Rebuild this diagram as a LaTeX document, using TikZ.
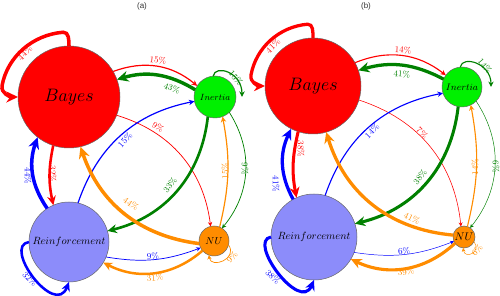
\RequirePackage{fix-cm}
\documentclass[tikz,border=0pt]{standalone}
\usepackage{fontspec}
\newfontfamily\titlefont{Liberation Sans}
\usetikzlibrary{arrows.meta,calc}
\definecolor{cR}{RGB}{255,0,0}
\definecolor{cG}{RGB}{0,128,0}
\definecolor{cB}{RGB}{0,0,255}
\definecolor{cO}{RGB}{255,140,0}
\definecolor{fB}{RGB}{255,0,0}
\definecolor{fI}{RGB}{0,240,0}
\definecolor{fR}{RGB}{140,140,250}
\definecolor{fN}{RGB}{255,140,0}
\tikzset{
 state/.style={circle, draw=black!60, line width=0.5pt, inner sep=0pt, outer sep=0pt},
 wt/.style={line width=#1*0.08pt, -{Stealth[length=2.5pt 2.6, width=2.5pt 2.4]}},
 lab/.style={font=\fontsize{8.8}{9}\selectfont, inner sep=0pt},
 ttl/.style={font=\titlefont\fontsize{8}{8}\selectfont, text=black!80, inner sep=0pt},
}
\begin{document}
\begin{tikzpicture}[x=1pt,y=1pt]
\useasboundingbox (0,0) rectangle (500,296);
% ---------------- panel (a)
\node[ttl] (ta) at (142,290) {(a)};
\node[state, fill=fB, minimum size=102pt] (Ba) at (69,199) {\fontsize{18}{18}\selectfont$Bayes$};
\node[state, fill=fI, minimum size=42pt] (Ia) at (215,199) {\fontsize{9}{9}\selectfont$Inertia$};
\node[state, fill=fR, minimum size=80pt] (Ra) at (69,54) {\fontsize{10.5}{10.5}\selectfont$Reinforcement$};
\node[state, fill=fN, minimum size=30pt] (Na) at (214,55) {\fontsize{10}{10}\selectfont$NU$};

\draw[wt=44, cR] (Ba.north) to[out=90,in=5] ($(Ba.center)+(95:68 and 65)$) arc[start angle=95,end angle=170,x radius=68,y radius=65] to[out=260,in=180] (Ba.west);
\draw[wt=15, cR] (Ba.30) to[bend left=30] (Ia.148);
\draw[wt=43, cG] (Ia.160) to[bend right=24] (Ba.20);
\draw[wt=15, cG] (Ia.95) .. controls +(2,12) and +(0,25) .. ($(Ia.east)+(6,0)$);
\draw[wt=9, cR] (Ba.-21) to[bend left=33] (Na.103);
\draw[wt=15, cB] (Ra.77) to[bend left=30] (Ia.192);
\draw[wt=33, cG] (Ia.250) to[bend left=35] (Ra.16);
\draw[wt=15, cO] (Na.68) to[bend right=12] (Ia.291);
\draw[wt=9, cG] (Ia.313) to[bend left=36] (Na.58);
\draw[wt=44, cO] (Na.190) to[bend left=32] (Ba.283);
\draw[wt=44, cB] (Ra.123) to[bend left=27] (Ba.232);
\draw[wt=32, cR] (Ba.252) to[bend right=12] (Ra.113);
\draw[wt=32, cB] (Ra.west) .. controls (2,50) and (55,-22) .. (Ra.south);
\draw[wt=9, cB] (Ra.-22) to[bend right=15] (Na.207);
\draw[wt=31, cO] (Na.220) to[bend left=34] (Ra.329);
\draw[wt=9, cO] (Na.-15) .. controls +(10,-14) and +(2,-14) .. (Na.250);

\node[lab, text=cR, rotate=45] (la1) at (25,243) {44\%};
\node[lab, text=cR, rotate=-6] (la2) at (158,236) {15\%};
\node[lab, text=cG, rotate=-20] (la3) at (172,208) {43\%};
\node[lab, text=cG, rotate=-50] (la4) at (236,218) {15\%};
\node[lab, text=cR, rotate=-35] (la5) at (158,169) {9\%};
\node[lab, text=cB, rotate=48] (la6) at (125,156) {15\%};
\node[lab, text=cG, rotate=52] (la7) at (170,111) {33\%};
\node[lab, text=cO, rotate=90] (la8) at (225,125) {15\%};
\node[lab, text=cG, rotate=-90] (la9) at (245,127) {9\%};
\node[lab, text=cO, rotate=-35] (la10) at (131,92) {44\%};
\node[lab, text=cB, rotate=-90] (la11) at (28,120) {44\%};
\node[lab, text=cR, rotate=-90] (la12) at (53,122) {32\%};
\node[lab, text=cB, rotate=-45] (la13) at (30,17) {32\%};
\node[lab, text=cB, rotate=4] (la14) at (153,40) {9\%};
\node[lab, text=cO, rotate=6] (la15) at (155,18) {31\%};
\node[lab, text=cO, rotate=50] (la16) at (232,39) {9\%};

% ---------------- panel (b)
\node[ttl] (tb) at (366,290) {(b)};
\node[state, fill=fB, minimum size=96pt] (Bb) at (313,210) {\fontsize{18}{18}\selectfont$Bayes$};
\node[state, fill=fI, minimum size=40pt] (Ib) at (462,209) {\fontsize{9.5}{9.5}\selectfont$Inertia$};
\node[state, fill=fR, minimum size=86pt] (Rb) at (314,59) {\fontsize{10.5}{10.5}\selectfont$Reinforcement$};
\node[state, fill=fN, minimum size=22pt] (Nb) at (464,59) {\fontsize{11}{11}\selectfont$NU$};

\draw[wt=41, cR] (Bb.north) to[out=90,in=5] ($(Bb.center)+(95:63 and 62)$) arc[start angle=95,end angle=170,x radius=63,y radius=62] to[out=260,in=180] (Bb.west);
\draw[wt=14, cR] (Bb.29) to[bend left=30] (Ib.144);
\draw[wt=41, cG] (Ib.157) to[bend right=22] (Bb.19);
\draw[wt=14, cG] (Ib.95) .. controls +(2,12) and +(0,24) .. ($(Ib.east)+(9,0)$);
\draw[wt=7, cR] (Bb.-17) to[bend left=33] (Nb.106);
\draw[wt=14, cB] (Rb.75) to[bend left=30] (Ib.198);
\draw[wt=38, cG] (Ib.259) to[bend left=35] (Rb.18);
\draw[wt=14, cO] (Nb.72) to[bend right=12] (Ib.296);
\draw[wt=6, cG] (Ib.315) to[bend left=36] (Nb.56);
\draw[wt=41, cO] (Nb.170) to[bend left=34] (Bb.286);
\draw[wt=41, cB] (Rb.119) to[bend left=27] (Bb.243);
\draw[wt=38, cR] (Bb.252) to[bend right=12] (Rb.114);
\draw[wt=38, cB] (Rb.west) .. controls (247,55) and (300,-17) .. (Rb.south);
\draw[wt=6, cB] (Rb.-21) to[bend right=15] (Nb.203);
\draw[wt=39, cO] (Nb.215) to[bend left=34] (Rb.329);
\draw[wt=6, cO] (Nb.-25) .. controls +(8,-10) and +(2,-12) .. (Nb.265);

\node[lab, text=cR, rotate=45] (lb1) at (273,250) {41\%};
\node[lab, text=cR, rotate=-3] (lb2) at (403,246) {14\%};
\node[lab, text=cG, rotate=-5] (lb3) at (402,222) {41\%};
\node[lab, text=cG, rotate=-50] (lb4) at (485,230) {14\%};
\node[lab, text=cR, rotate=-45] (lb5) at (422,163) {7\%};
\node[lab, text=cB, rotate=45] (lb6) at (372,165) {14\%};
\node[lab, text=cG, rotate=52] (lb7) at (420,119) {38\%};
\node[lab, text=cO, rotate=90] (lb8) at (475,129) {14\%};
\node[lab, text=cG, rotate=-90] (lb9) at (496,129) {6\%};
\node[lab, text=cO, rotate=-25] (lb10) at (412,78) {41\%};
\node[lab, text=cB, rotate=-90] (lb11) at (276,112) {41\%};
\node[lab, text=cR, rotate=-90] (lb12) at (301,147) {38\%};
\node[lab, text=cB, rotate=-45] (lb13) at (273,19) {38\%};
\node[lab, text=cB, rotate=5] (lb14) at (404,45) {6\%};
\node[lab, text=cO, rotate=6] (lb15) at (406,24) {39\%};
\node[lab, text=cO, rotate=50] (lb16) at (477,46) {6\%};
\end{tikzpicture}
\end{document}
